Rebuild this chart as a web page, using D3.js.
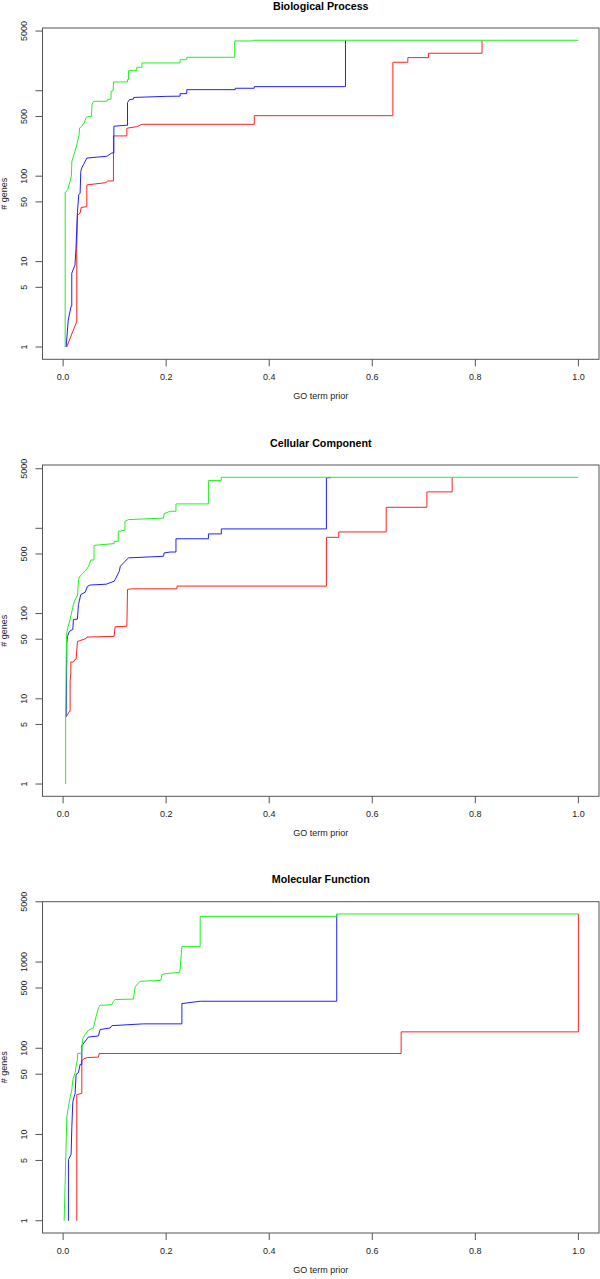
<!DOCTYPE html>
<html><head><meta charset="utf-8">
<script src="https://cdn.jsdelivr.net/npm/d3@7"></script>
<style>
body{margin:0;background:#fff}
svg{display:block}
text{font-family:"Liberation Sans",Arial,Helvetica,sans-serif;fill:#222}
</style>
</head><body>
<svg id="chart" width="600" height="1279"></svg>
<script>
// ---------- data ----------
const titles = ["Biological Process", "Cellular Component", "Molecular Function"];
const xTicks = [0, 0.2, 0.4, 0.6, 0.8, 1.0];
const yTicks = [1, 5, 10, 50, 100, 500, 1000, 5000];
const yLabelsBP = [1, 5, 10, 50, 100, 500, 5000];
const yLabelsCC = [1, 5, 10, 50, 100, 500, 5000];
const yLabelsMF = [1, 5, 10, 50, 100, 500, 1000, 5000];
const xTitle = "GO term prior";
const yTitle = "# genes";

// Biological Process (red/blue end where they join the green top line)
const bpRed = [[0.007,1],[0.0265,2],[0.0265,15],[0.0278,35],[0.033,37],[0.035,43],[0.046,44],[0.046,79],[0.0835,84],[0.086,88],[0.0977,88],[0.0977,296],[0.1237,296],[0.1237,364],[0.143,380],[0.153,405],[0.371,405],[0.371,511],[0.640,511],[0.640,2157],[0.669,2157],[0.669,2443],[0.709,2443],[0.709,2748],[0.813,2748],[0.813,3900]];
const bpBlue = [[0.0058,1],[0.01,2.07],[0.0155,3],[0.0168,3],[0.0168,7.3],[0.023,9.1],[0.025,14.3],[0.0278,38],[0.0304,61],[0.033,63],[0.0343,114],[0.0362,125],[0.0394,136],[0.046,163],[0.0848,171],[0.0945,187],[0.0985,187],[0.0985,384],[0.120,394],[0.125,394],[0.125,730],[0.129,787],[0.137,800],[0.137,835],[0.2,860],[0.227,865],[0.227,925],[0.24,925],[0.24,1030],[0.334,1030],[0.334,1070],[0.371,1070],[0.371,1117],[0.548,1117],[0.548,3900]];
const bpGreen = [[0.004,1],[0.004,64],[0.009,70],[0.0136,87],[0.016,100],[0.017,149],[0.02,171],[0.023,196],[0.026,225],[0.028,256],[0.031,300],[0.032,367],[0.036,384],[0.041,420],[0.045,489],[0.05,500],[0.055,500],[0.056,687],[0.059,753],[0.085,753],[0.086,787],[0.093,800],[0.093,986],[0.097,1000],[0.098,1268],[0.125,1268],[0.125,1350],[0.127,1350],[0.127,1720],[0.143,1720],[0.143,1884],[0.153,1884],[0.153,2117],[0.227,2117],[0.227,2311],[0.24,2311],[0.24,2466],[0.333,2466],[0.333,3830],[0.369,3830],[0.369,3900],[1.0,3900]];

// Cellular Component
const ccRed = [[0.006,6.1],[0.012,7.1],[0.0136,7.1],[0.0136,16],[0.015,20],[0.015,27],[0.02,27],[0.0233,29],[0.0252,29],[0.0278,47],[0.0447,51],[0.046,53],[0.099,54],[0.101,70],[0.1237,71],[0.125,192],[0.133,195],[0.221,195],[0.221,210],[0.511,210],[0.511,784],[0.535,784],[0.535,907],[0.627,907],[0.627,1765],[0.706,1765],[0.706,2674],[0.755,2674],[0.755,3970]];
const ccBlue = [[0.006,6.2],[0.0071,27],[0.0071,45],[0.0084,54],[0.0123,62],[0.0188,65],[0.02,85],[0.0278,86],[0.0297,127],[0.0343,167],[0.0427,178],[0.0472,208],[0.0524,216],[0.0835,221],[0.099,239],[0.101,251],[0.109,313],[0.111,358],[0.120,410],[0.127,450],[0.195,470],[0.196,514],[0.208,527],[0.219,527],[0.219,754],[0.282,754],[0.282,860],[0.307,860],[0.307,984],[0.511,984],[0.511,3900],[0.52,3940]];
const ccGreen = [[0.005,1],[0.005,6],[0.006,29],[0.007,60],[0.010,71],[0.0136,86],[0.018,112],[0.02,128],[0.023,144],[0.027,161],[0.028,161],[0.03,252],[0.033,276],[0.043,316],[0.049,355],[0.054,425],[0.060,425],[0.060,631],[0.099,661],[0.099,703],[0.107,703],[0.107,922],[0.120,950],[0.120,1208],[0.127,1265],[0.195,1318],[0.196,1486],[0.208,1585],[0.219,1585],[0.219,1933],[0.282,1933],[0.282,3630],[0.307,3630],[0.307,3970],[1.0,3970]];

// Molecular Function
const mfRed = [[0.0265,1],[0.0265,29],[0.0363,30],[0.0363,71],[0.0395,75],[0.047,78],[0.0685,79],[0.07,87],[0.656,87],[0.656,155],[1.0,155],[1.0,3610]];
const mfBlue = [[0.0103,1],[0.0103,5.1],[0.0155,5.9],[0.0169,12],[0.0188,24],[0.0233,30],[0.0252,50],[0.0297,52],[0.033,65],[0.0363,65],[0.0363,107],[0.0491,135],[0.0685,139],[0.0718,165],[0.0913,172],[0.0946,183],[0.156,192],[0.2305,192],[0.2305,330],[0.266,351],[0.531,351],[0.531,3610]];
const mfGreen = [[0.002,1],[0.0072,16],[0.0103,21],[0.0136,27],[0.0169,33],[0.0188,43],[0.0233,52],[0.0252,62],[0.0278,74],[0.0278,87],[0.0363,88],[0.0375,126],[0.0427,144],[0.0491,162],[0.0588,172],[0.0641,235],[0.0685,294],[0.0718,315],[0.0946,320],[0.0977,351],[0.101,367],[0.1365,372],[0.1398,515],[0.1495,598],[0.1897,612],[0.1917,714],[0.2,736],[0.2258,760],[0.2272,832],[0.2305,1520],[0.266,1520],[0.266,3388],[0.531,3388],[0.531,3610],[1.0,3610]];

// ---------- layout ----------
const panels = [
  {title: titles[0], red: bpRed, blue: bpBlue, green: bpGreen, labels: yLabelsBP, top: 28},
  {title: titles[1], red: ccRed, blue: ccBlue, green: ccGreen, labels: yLabelsCC, top: 465},
  {title: titles[2], red: mfRed, blue: mfBlue, green: mfGreen, labels: yLabelsMF, top: 901.7}
];
const left = 42.5, right = 599, boxH = 331.3;
const colors = {red: "#ff2020", blue: "#2020ff", green: "#20f020"};
const tickLen = 7;

const svg = d3.select("#chart");
const fmtX = d3.format(".1f");

panels.forEach(p => {
  const g = svg.append("g");
  const bottom = p.top + boxH;
  const x = d3.scaleLinear().domain([-0.04, 1.04]).range([left, right]);
  const allY = [...p.red, ...p.blue, ...p.green].map(d => d[1]);
  const L = Math.log10(d3.max(allY)), L0 = Math.log10(d3.min(allY));
  const span = L - L0;
  const y = d3.scaleLog()
    .domain([Math.pow(10, L0 - 0.04 * span), Math.pow(10, L + 0.04 * span)])
    .range([bottom, p.top]);

  // title
  g.append("text").attr("x", (left + right) / 2).attr("y", p.top - 18.5)
    .attr("text-anchor", "middle").style("font-weight", "bold").style("font-size", "10.7px")
    .style("fill", "#000").text(p.title);

  // lines: red, blue, green (green on top)
  const line = d3.line().x(d => x(d[0])).y(d => y(d[1]));
  [["red", p.red], ["blue", p.blue], ["green", p.green]].forEach(([c, data]) => {
    g.append("path").datum(data).attr("d", line)
      .attr("fill", "none").attr("stroke", colors[c]).attr("stroke-width", 1)
      .attr("stroke-linejoin", "miter");
  });

  // box
  g.append("rect").attr("x", left).attr("y", p.top).attr("width", right - left).attr("height", boxH)
    .attr("fill", "none").attr("stroke", "#555").attr("stroke-width", 1);

  // x axis
  xTicks.forEach(t => {
    g.append("line").attr("x1", x(t)).attr("x2", x(t)).attr("y1", bottom).attr("y2", bottom + tickLen)
      .attr("stroke", "#555");
    g.append("text").attr("x", x(t)).attr("y", bottom + 20.5).attr("text-anchor", "middle")
      .style("font-size", "9px").text(fmtX(t));
  });
  g.append("text").attr("x", (left + right) / 2).attr("y", bottom + 40)
    .attr("text-anchor", "middle").style("font-size", "9px").text(xTitle);

  // y axis
  yTicks.forEach(t => {
    g.append("line").attr("x1", left - tickLen).attr("x2", left).attr("y1", y(t)).attr("y2", y(t))
      .attr("stroke", "#555");
  });
  p.labels.forEach(t => {
    g.append("text").attr("transform", `translate(${27},${y(t)}) rotate(-90)`)
      .attr("text-anchor", "middle").style("font-size", "9px").text(t);
  });
  g.append("text").attr("transform", `translate(${7},${(p.top + bottom) / 2}) rotate(-90)`)
    .attr("text-anchor", "middle").style("font-size", "9px").text(yTitle);
});
</script>
</body></html>
